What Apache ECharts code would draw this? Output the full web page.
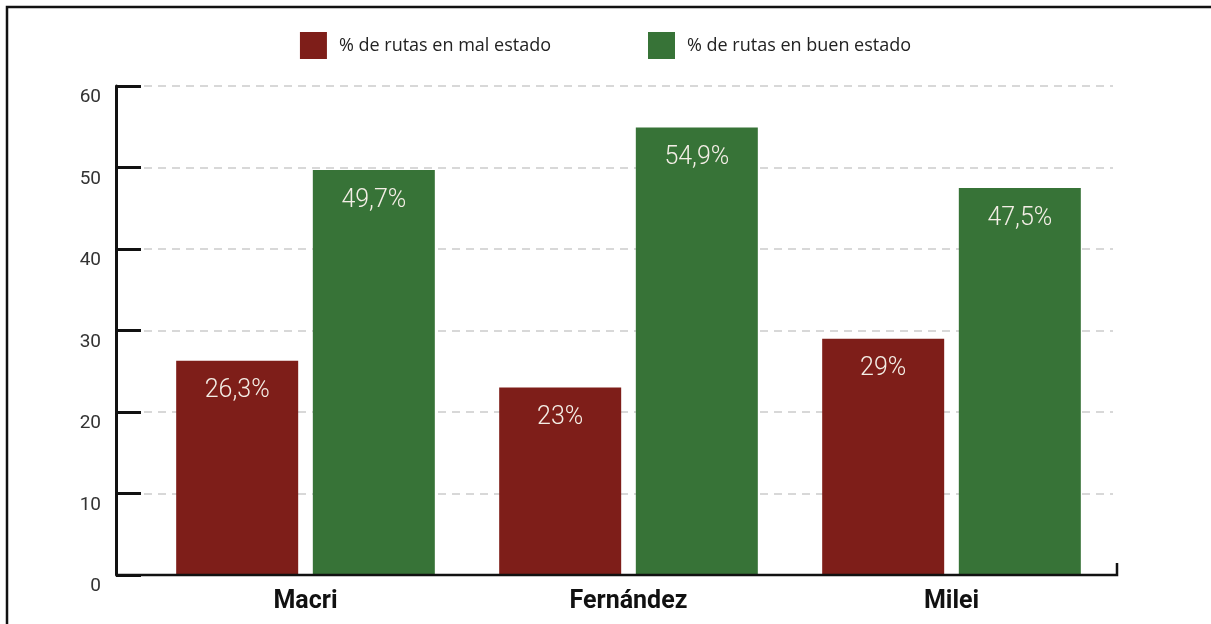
<!DOCTYPE html>
<html>
<head>
<meta charset="utf-8">
<script src="https://cdn.jsdelivr.net/npm/echarts@6/dist/echarts.min.js"></script>
<style>
  html, body { margin: 0; padding: 0; background: #fff; }
  #chart { width: 1211px; height: 624px; }
</style>
</head>
<body>
<div id="chart"></div>
<script>
const categories = ['Macri', 'Fernández', 'Milei'];
const malEstado = [26.3, 23, 29];
const buenEstado = [49.7, 54.9, 47.5];
const yTicks = [0, 10, 20, 30, 40, 50, 60];

const FONT = 'Roboto';
const RED = '#7e1e19';
const GREEN = '#377337';

const chart = echarts.init(document.getElementById('chart'));

// etiqueta con coma decimal
const fmt = p => String(p.value).replace('.', ',') + '%';

const barLabel = {
  show: true,
  position: 'insideTop',
  distance: 18,
  color: '#f4eee6',
  fontSize: 25,
  fontWeight: 300,
  fontFamily: FONT,
  formatter: fmt
};

const option = {
  animation: false,
  backgroundColor: '#fff',
  legend: {
    data: ['% de rutas en mal estado', '% de rutas en buen estado'],
    left: 'center',
    top: 27,
    icon: 'rect',
    itemWidth: 27,
    itemHeight: 27,
    itemGap: 97,
    textStyle: {
      fontFamily: 'Open Sans',
      fontSize: 18,
      color: '#222',
      padding: [0, 0, 0, 7]
    }
  },
  grid: {
    left: 144,
    right: 98,
    top: 86,
    bottom: 49,
    containLabel: false
  },
  xAxis: {
    type: 'category',
    data: categories,
    axisLine: { show: false },
    axisTick: { show: false },
    axisLabel: {
      margin: 14,
      color: '#111',
      fontSize: 25,
      fontWeight: 'bold',
      fontFamily: FONT
    }
  },
  yAxis: {
    type: 'value',
    min: yTicks[0],
    max: yTicks[yTicks.length - 1],
    interval: 10,
    offset: 28,
    axisLine: { show: true, lineStyle: { color: '#111', width: 3 } },
    axisTick: { show: true, inside: true, length: 25, lineStyle: { color: '#111', width: 3 } },
    axisLabel: {
      margin: 15,
      color: '#333',
      fontSize: 19,
      fontFamily: FONT,
      verticalAlign: 'top',
      padding: [2, 0, 0, 0]
    },
    splitLine: {
      show: true,
      lineStyle: { color: '#cccccc', width: 1.5, type: [8, 6] }
    }
  },
  series: [
    {
      name: '% de rutas en mal estado',
      type: 'bar',
      data: malEstado,
      barWidth: 122,
      barGap: '12%',
      itemStyle: { color: RED },
      label: barLabel
    },
    {
      name: '% de rutas en buen estado',
      type: 'bar',
      data: buenEstado,
      barWidth: 122,
      barGap: '12%',
      itemStyle: { color: GREEN },
      label: barLabel
    }
  ]
};

chart.setOption(option);

// linea base del eje X (se extiende hasta el eje Y desplazado) y marco
const y0 = chart.convertToPixel({ yAxisIndex: 0 }, 0);
const xLeft = option.grid.left - option.yAxis.offset;
const xRight = chart.getWidth() - option.grid.right + 4;

chart.setOption({
  graphic: [
    {
      type: 'polyline',
      shape: { points: [[xLeft, y0], [xRight, y0], [xRight, y0 - 12]] },
      style: { stroke: '#111', lineWidth: 2.5, fill: null },
      z: 10
    },
    {
      type: 'rect',
      shape: { x: 7, y: 7, width: 1300, height: 700 },
      style: { stroke: '#111', lineWidth: 2.5, fill: null },
      silent: true,
      z: 10
    }
  ]
});
</script>
</body>
</html>
